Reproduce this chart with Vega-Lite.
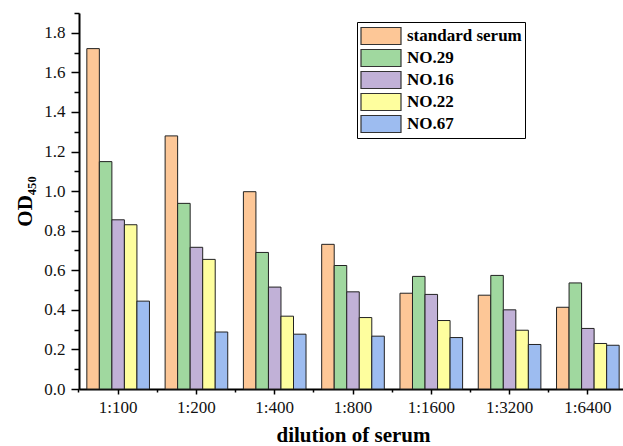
{
  "$schema": "https://vega.github.io/schema/vega-lite/v6.json",
  "width": 548,
  "height": 376,
  "autosize": {"type": "none"},
  "padding": {"left": 79, "top": 13, "right": 0, "bottom": 57},
  "background": "white",
  "config": {
    "view": {"stroke": null},
    "font": "Liberation Serif",
    "axis": {"labelFont": "Liberation Serif", "titleFont": "Liberation Serif"},
    "legend": {"labelFont": "Liberation Serif", "titleFont": "Liberation Serif"}
  },
  "data": {
    "values": [
      {"dilution": "1:100", "serum": "standard serum", "od": 1.72},
      {"dilution": "1:100", "serum": "NO.29", "od": 1.149},
      {"dilution": "1:100", "serum": "NO.16", "od": 0.855},
      {"dilution": "1:100", "serum": "NO.22", "od": 0.83},
      {"dilution": "1:100", "serum": "NO.67", "od": 0.444},
      {"dilution": "1:200", "serum": "standard serum", "od": 1.279},
      {"dilution": "1:200", "serum": "NO.29", "od": 0.938},
      {"dilution": "1:200", "serum": "NO.16", "od": 0.716},
      {"dilution": "1:200", "serum": "NO.22", "od": 0.655},
      {"dilution": "1:200", "serum": "NO.67", "od": 0.288},
      {"dilution": "1:400", "serum": "standard serum", "od": 0.997},
      {"dilution": "1:400", "serum": "NO.29", "od": 0.69},
      {"dilution": "1:400", "serum": "NO.16", "od": 0.515},
      {"dilution": "1:400", "serum": "NO.22", "od": 0.368},
      {"dilution": "1:400", "serum": "NO.67", "od": 0.277},
      {"dilution": "1:800", "serum": "standard serum", "od": 0.731},
      {"dilution": "1:800", "serum": "NO.29", "od": 0.624},
      {"dilution": "1:800", "serum": "NO.16", "od": 0.491},
      {"dilution": "1:800", "serum": "NO.22", "od": 0.361},
      {"dilution": "1:800", "serum": "NO.67", "od": 0.267},
      {"dilution": "1:1600", "serum": "standard serum", "od": 0.484},
      {"dilution": "1:1600", "serum": "NO.29", "od": 0.569},
      {"dilution": "1:1600", "serum": "NO.16", "od": 0.478},
      {"dilution": "1:1600", "serum": "NO.22", "od": 0.346},
      {"dilution": "1:1600", "serum": "NO.67", "od": 0.26},
      {"dilution": "1:3200", "serum": "standard serum", "od": 0.474},
      {"dilution": "1:3200", "serum": "NO.29", "od": 0.574},
      {"dilution": "1:3200", "serum": "NO.16", "od": 0.4},
      {"dilution": "1:3200", "serum": "NO.22", "od": 0.297},
      {"dilution": "1:3200", "serum": "NO.67", "od": 0.225},
      {"dilution": "1:6400", "serum": "standard serum", "od": 0.413},
      {"dilution": "1:6400", "serum": "NO.29", "od": 0.536},
      {"dilution": "1:6400", "serum": "NO.16", "od": 0.306},
      {"dilution": "1:6400", "serum": "NO.22", "od": 0.23},
      {"dilution": "1:6400", "serum": "NO.67", "od": 0.221}
    ]
  },
  "resolve": {"axis": {"x": "independent", "y": "independent"}},
  "layer": [
    {
      "mark": {"type": "bar", "stroke": "#222", "strokeWidth": 1},
      "encoding": {
        "x": {
          "field": "dilution", "type": "nominal",
          "sort": ["1:100", "1:200", "1:400", "1:800", "1:1600", "1:3200", "1:6400"],
          "scale": {"paddingInner": 0.2, "paddingOuter": 0.1},
          "axis": {
            "orient": "bottom",
            "title": "dilution of serum",
            "titleFont": "Liberation Serif",
            "titleFontSize": 21, "titleFontWeight": "bold", "titleColor": "black", "titlePadding": 9,
            "labelFont": "Liberation Serif",
            "labelAngle": 0, "labelFontSize": 17, "labelColor": "#111", "labelPadding": 5,
            "tickSize": 5, "tickWidth": 1.5, "tickColor": "black",
            "domainColor": "black", "domainWidth": 2, "grid": false
          }
        },
        "xOffset": {
          "field": "serum", "type": "nominal",
          "sort": ["standard serum", "NO.29", "NO.16", "NO.22", "NO.67"],
          "scale": {"paddingInner": 0, "paddingOuter": 0}
        },
        "y": {
          "field": "od", "type": "quantitative",
          "scale": {"domain": [0, 1.9], "nice": false},
          "axis": {
            "orient": "left",
            "title": "OD₄₅₀",
            "titleFont": "Liberation Serif",
            "titleFontSize": 21, "titleFontWeight": "bold", "titleColor": "black", "titlePadding": 8,
            "values": [0, 0.2, 0.4, 0.6, 0.8, 1.0, 1.2, 1.4, 1.6, 1.8],
            "format": ".1f",
            "labelFont": "Liberation Serif",
            "labelFontSize": 17, "labelColor": "#111", "labelPadding": 6,
            "tickSize": 8, "tickWidth": 1.5, "tickColor": "black",
            "domainColor": "black", "domainWidth": 2, "grid": false
          }
        },
        "color": {
          "field": "serum", "type": "nominal",
          "sort": ["standard serum", "NO.29", "NO.16", "NO.22", "NO.67"],
          "scale": {
            "domain": ["standard serum", "NO.29", "NO.16", "NO.22", "NO.67"],
            "range": ["#FDC797", "#A0D89F", "#C1B1D7", "#FEFE9E", "#9DBCF0"]
          },
          "legend": {
            "title": null,
            "orient": "none",
            "legendX": 278,
            "legendY": 9,
            "direction": "vertical",
            "fillColor": "white",
            "strokeColor": "black",
            "padding": 3,
            "symbolType": "M-2,-0.85L2,-0.85L2,0.85L-2,0.85Z",
            "symbolSize": 400,
            "symbolOffset": 10,
            "symbolStrokeColor": "#333",
            "symbolStrokeWidth": 1.2,
            "symbolOpacity": 1,
            "labelFont": "Liberation Serif",
            "labelFontSize": 17,
            "labelFontWeight": "bold",
            "labelColor": "black",
            "labelOffset": 15,
            "rowPadding": -0.5
          }
        }
      }
    },
    {
      "mark": {"type": "point", "opacity": 0},
      "encoding": {
        "x": {
          "field": "dilution", "type": "nominal",
          "sort": ["1:100", "1:200", "1:400", "1:800", "1:1600", "1:3200", "1:6400"],
          "axis": {
            "orient": "bottom", "title": null, "labels": false, "domain": false,
            "bandPosition": -0.125, "tickSize": 3, "tickWidth": 1.5, "tickColor": "black", "grid": false
          }
        },
        "y": {
          "field": "od", "type": "quantitative",
          "axis": {
            "orient": "left", "title": null, "labels": false, "domain": false,
            "values": [0.1, 0.3, 0.5, 0.7, 0.9, 1.1, 1.3, 1.5, 1.7, 1.9],
            "tickSize": 5, "tickWidth": 1.5, "tickColor": "black", "grid": false
          }
        }
      }
    }
  ]
}
